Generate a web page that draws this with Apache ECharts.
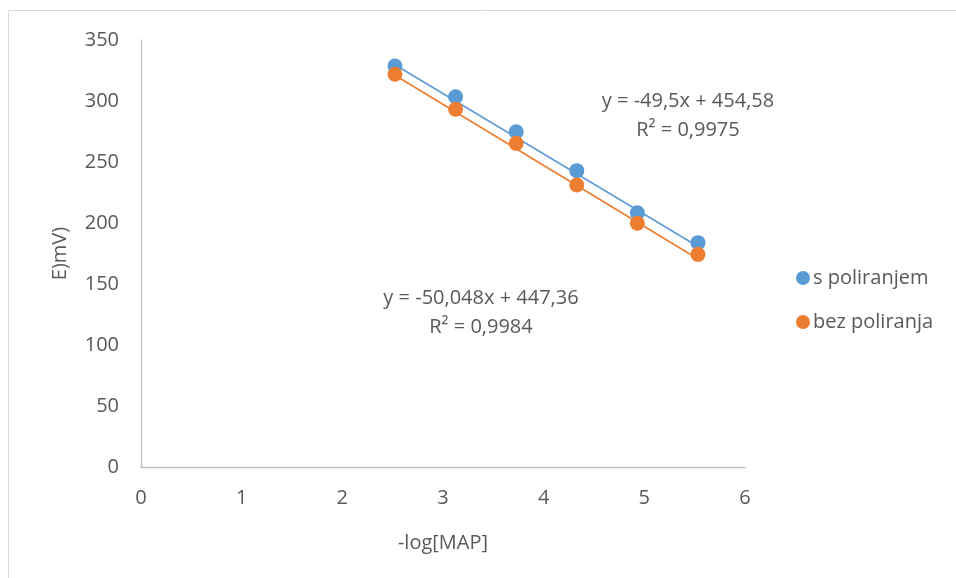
<!DOCTYPE html>
<html>
<head>
<meta charset="utf-8">
<script src="https://cdn.jsdelivr.net/npm/echarts@6/dist/echarts.min.js"></script>
<style>html,body{margin:0;padding:0;background:#fff;}#c{width:956px;height:578px;}</style>
</head>
<body>
<div id="c"></div>
<script>
const xValues = [2.523, 3.125, 3.727, 4.329, 4.931, 5.533];
const sPoliranjem = [328.7, 303.5, 274.8, 242.9, 208.4, 183.9];
const bezPoliranja = [321.9, 293.2, 265.3, 231.1, 199.8, 174.3];
const seriesNames = ['s poliranjem', 'bez poliranja'];
const trendSlopes = [-49.5, -50.048];
const trendIntercepts = [454.58, 447.36];
const trendLabels = [['y = -49,5x + 454,58', 'R² = 0,9975'], ['y = -50,048x + 447,36', 'R² = 0,9984']];
const xTicks = [0, 1, 2, 3, 4, 5, 6];
const yTicks = [0, 50, 100, 150, 200, 250, 300, 350];

const colors = ['#5B9BD5', '#ED7D31'];
const FONT = 'Open Sans';
const TXT = '#595959';
const FS = 20;

function pairs(ys) { return xValues.map((x, i) => [x, ys[i]]); }
function trend(k) {
  const x0 = Math.min(...xValues), x1 = Math.max(...xValues);
  return [[x0, trendSlopes[k] * x0 + trendIntercepts[k]], [x1, trendSlopes[k] * x1 + trendIntercepts[k]]];
}

const chart = echarts.init(document.getElementById('c'));
const series = [];
[sPoliranjem, bezPoliranja].forEach((ys, k) => {
  series.push({
    name: seriesNames[k] + ' trend', type: 'line', data: trend(k), symbol: 'none',
    lineStyle: { color: colors[k], width: 1.6 }, silent: true, z: 2
  });
});
[sPoliranjem, bezPoliranja].forEach((ys, k) => {
  series.push({
    name: seriesNames[k], type: 'scatter', data: pairs(ys), symbol: 'circle', symbolSize: 15,
    itemStyle: { color: colors[k], opacity: 1 }, z: 3 + k
  });
});

const eqFont = FS + 'px "Open Sans"';
chart.setOption({
  animation: false,
  textStyle: { fontFamily: FONT },
  grid: { left: 141, right: 211, top: 40, bottom: 111 },
  legend: {
    data: seriesNames.map(n => ({ name: n, icon: 'circle' })),
    orient: 'vertical', left: 791, top: 263, itemWidth: 14, itemHeight: 14, itemGap: 24,
    textStyle: { color: TXT, fontSize: FS, fontFamily: FONT, padding: [0, 0, 0, -2] }
  },
  xAxis: {
    type: 'value', min: 0, max: 6, interval: 1,
    name: '-log[MAP]', nameLocation: 'middle', nameGap: 66,
    nameTextStyle: { color: TXT, fontSize: FS, fontFamily: FONT },
    axisLine: { lineStyle: { color: '#BFBFBF', width: 1.3 } },
    axisTick: { show: false }, splitLine: { show: false },
    axisLabel: { color: TXT, fontSize: FS, margin: 21, fontFamily: FONT }
  },
  yAxis: {
    type: 'value', min: 0, max: 350, interval: 50,
    name: 'E)mV)', nameLocation: 'middle', nameGap: 71,
    nameTextStyle: { color: TXT, fontSize: FS, fontFamily: FONT },
    axisLine: { show: true, lineStyle: { color: '#BFBFBF', width: 1.3 } },
    axisTick: { show: false }, splitLine: { show: false },
    axisLabel: { color: TXT, fontSize: FS, margin: 22, fontFamily: FONT }
  },
  graphic: [
    { type: 'rect', shape: { x: 8.5, y: 10.5, width: 1000, height: 1000 }, style: { fill: 'none', stroke: '#D9D9D9', lineWidth: 1 }, silent: true },
    { type: 'text', x: 688, y: 101, style: { text: trendLabels[0][0], fill: TXT, font: eqFont, textAlign: 'center', textVerticalAlign: 'middle' } },
    { type: 'text', x: 688, y: 130, style: { text: trendLabels[0][1], fill: TXT, font: eqFont, textAlign: 'center', textVerticalAlign: 'middle' } },
    { type: 'text', x: 481, y: 298, style: { text: trendLabels[1][0], fill: TXT, font: eqFont, textAlign: 'center', textVerticalAlign: 'middle' } },
    { type: 'text', x: 481, y: 327, style: { text: trendLabels[1][1], fill: TXT, font: eqFont, textAlign: 'center', textVerticalAlign: 'middle' } }
  ],
  series: series
});
</script>
</body>
</html>
